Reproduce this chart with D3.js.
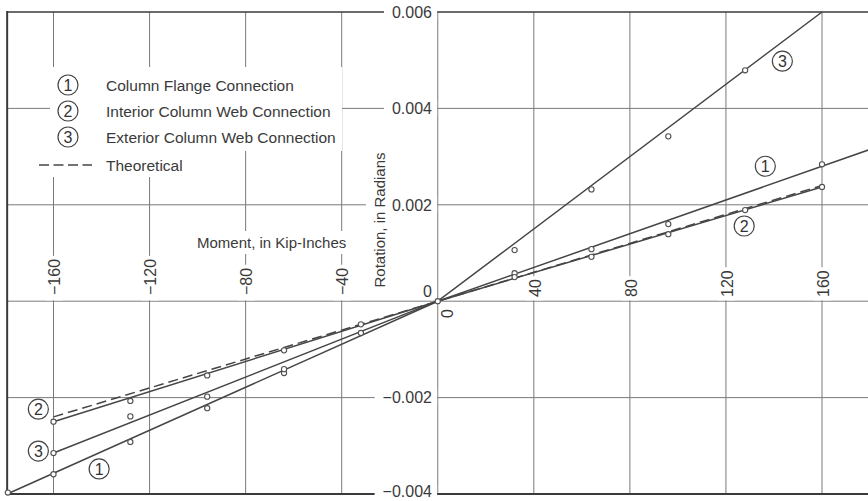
<!DOCTYPE html>
<html lang="en">
<head>
  <meta charset="UTF-8" />
  <title>Moment-Rotation of Beam Connections</title>
  <script src="https://d3js.org/d3.v7.min.js"></script>
  <style>
    body { margin: 0; padding: 0; background: #fff; }
    svg { display: block; font-family: "Liberation Sans", Arial, sans-serif; }
    .grid { stroke: #7a7a7a; stroke-width: 1; }
    .frame { stroke: #3a3a3a; stroke-width: 2; }
    .tick { fill: #3a3a3a; font-size: 16px; }
    .title { fill: #3a3a3a; font-size: 15px; }
    .legend { fill: #3a3a3a; font-size: 15.5px; }
    .series { fill: none; stroke: #454545; stroke-width: 1.5; }
    .pt { fill: #fff; stroke: #505050; stroke-width: 1.1; }
    .tag circle { fill: #fff; stroke: #444; stroke-width: 1.2; }
    .tag text { fill: #333; font-size: 16px; }
  </style>
</head>
<body>
<div id="chart"></div>
<script>
  // ---- data (moment in kip-inches, rotation in radians) ----
  const xGrid = [-160, -120, -80, -40, 0, 40, 80, 120, 160];
  const xTicks = [-160, -120, -80, -40, 40, 80, 120, 160];
  const yGrid = [0.004, 0.002, 0, -0.002];
  const yTicks = [0.006, 0.004, 0.002, -0.002, -0.004];

  // 1 - column flange connection
  const flangePts = [[-179, -0.00397], [-160, -0.00359], [-128, -0.00292], [-96, -0.00222],
                     [-64, -0.00149], [32, 0.00058], [64, 0.00108], [96, 0.0016], [160, 0.00284]];
  const flangeLine = [[-179.3, -0.004], [0, 0], [180, 0.00315]];

  // 2 - interior column web connection
  const interiorPts = [[-160, -0.0025], [-128, -0.00207], [-96, -0.00154], [-64, -0.00102],
                       [-32, -0.00048], [0, 0], [32, 0.0005], [64, 0.00092], [96, 0.00139],
                       [128, 0.00189], [160, 0.00237]];
  const interiorLine = [[-160, -0.0025], [0, 0], [160, 0.00237]];

  // 3 - exterior column web connection
  const exteriorPts = [[-160, -0.00315], [-128, -0.00239], [-96, -0.00198], [-64, -0.00141],
                       [-32, -0.00066], [32, 0.00106], [64, 0.00232], [96, 0.00342], [128, 0.00479]];
  const exteriorLine = [[-160, -0.00315], [0, 0], [160, 0.006]];

  // theoretical
  const theoryLine = [[-160, -0.0024], [160, 0.0024]];

  // circled curve numbers
  const tags = [
    { n: "3", x: 143.5, y: 0.00498 },
    { n: "1", x: 136.4, y: 0.0028 },
    { n: "2", x: 127.6, y: 0.00156 },
    { n: "2", x: -166.3, y: -0.00224 },
    { n: "3", x: -166.3, y: -0.00311 },
    { n: "1", x: -141, y: -0.00348 }
  ];

  const legendItems = ["Column Flange Connection", "Interior Column Web Connection",
                       "Exterior Column Web Connection"];

  // ---- setup ----
  const width = 868, height = 501;
  const xMin = -179.3;

  const x = d3.scaleLinear().domain([-160, 160]).range([53.5, 822]);
  const y = d3.scaleLinear().domain([-0.004, 0.006]).range([494, 12]);

  const svg = d3.select("#chart").append("svg")
    .attr("width", width).attr("height", height);

  svg.append("rect").attr("width", width).attr("height", height).attr("fill", "#fff");

  const gridG = svg.append("g");
  const maskG = svg.append("g");
  const textG = svg.append("g");
  const dataG = svg.append("g");

  // gridlines
  gridG.selectAll(".vg").data(xGrid).enter().append("line")
    .attr("class", "grid")
    .attr("x1", d => x(d)).attr("x2", d => x(d))
    .attr("y1", y(0.006)).attr("y2", y(-0.004));

  gridG.selectAll(".hg").data(yGrid).enter().append("line")
    .attr("class", "grid")
    .attr("x1", x(xMin)).attr("x2", width)
    .attr("y1", d => y(d)).attr("y2", d => y(d));

  // frame: left, top, bottom
  gridG.append("line").attr("class", "frame")
    .attr("x1", x(xMin)).attr("x2", x(xMin)).attr("y1", y(0.006) - 1).attr("y2", y(-0.004) + 1);
  gridG.append("line").attr("class", "frame").style("stroke-width", 1.6)
    .attr("x1", x(xMin)).attr("x2", width).attr("y1", y(0.006)).attr("y2", y(0.006));
  gridG.append("line").attr("class", "frame")
    .attr("x1", x(xMin)).attr("x2", width).attr("y1", y(-0.004)).attr("y2", y(-0.004));

  // white backing behind a text, so gridlines stop around it
  function backdrop(sel, padX, padY) {
    sel.each(function () {
      const b = this.getBBox();
      const m = this.getCTM();
      const pts = [[b.x, b.y], [b.x + b.width, b.y], [b.x, b.y + b.height], [b.x + b.width, b.y + b.height]]
        .map(p => { const q = svg.node().createSVGPoint(); q.x = p[0]; q.y = p[1]; return q.matrixTransform(m); });
      const xs = pts.map(p => p.x), ys = pts.map(p => p.y);
      maskG.append("rect").attr("fill", "#fff")
        .attr("x", d3.min(xs) - padX).attr("y", d3.min(ys) - padY)
        .attr("width", d3.max(xs) - d3.min(xs) + 2 * padX)
        .attr("height", d3.max(ys) - d3.min(ys) + 2 * padY);
    });
  }

  const fmtY = d => (d < 0 ? "\u2212" : "") + Math.abs(d).toFixed(3);
  const fmtX = d => (d < 0 ? "\u2212" : "") + Math.abs(d);

  // y tick labels
  const yLab = textG.selectAll(".yl").data(yTicks).enter().append("text")
    .attr("class", "tick").attr("text-anchor", "end")
    .attr("x", 432).attr("y", d => Math.min(y(d), 491)).attr("dy", "0.36em")
    .text(fmtY);
  yLab.each(function (d) {
    const b = this.getBBox();
    maskG.append("rect").attr("fill", "#fff")
      .attr("x", b.x - 8).attr("y", y(d) - 8)
      .attr("width", x(0) - 0.6 - (b.x - 8)).attr("height", 16);
  });
  textG.append("text").attr("class", "tick").attr("text-anchor", "end")
    .attr("x", 432).attr("y", y(0) - 4).text("0");

  // x tick labels (rotated)
  const xLab = textG.selectAll(".xl").data(xTicks).enter().append("text")
    .attr("class", "tick").attr("text-anchor", "start")
    .attr("transform", d => `translate(${x(d)},${d < 0 ? 295 : 297}) rotate(-90)`)
    .attr("dy", "0.42em")
    .text(fmtX);
  xLab.each(function () {
    const b = this.getBBox();
    const m = this.getCTM();
    const top = m.f - (b.x + b.width);
    maskG.append("rect").attr("fill", "#fff")
      .attr("x", m.e - 8).attr("y", top - 3)
      .attr("width", 17).attr("height", y(0) - 0.8 - (top - 3));
  });
  textG.append("text").attr("class", "tick").attr("text-anchor", "start")
    .attr("transform", `translate(${x(0) + 9},318) rotate(-90)`)
    .attr("dy", "0.36em").text("0");

  // axis titles
  const yTitle = textG.append("text").attr("class", "title").attr("text-anchor", "middle")
    .attr("transform", "translate(385,220) rotate(-90)")
    .text("Rotation, in Radians");
  backdrop(yTitle, 5, 4);

  const xTitle = textG.append("text").attr("class", "title")
    .attr("x", 197).attr("y", 248)
    .text("Moment, in Kip-Inches");
  backdrop(xTitle, 4, 3);

  // legend
  maskG.append("rect").attr("fill", "#fff").attr("x", 50).attr("y", 67).attr("width", 292).attr("height", 84);
  maskG.append("rect").attr("fill", "#fff").attr("x", 35).attr("y", 150).attr("width", 157).attr("height", 27);

  const legendRows = [85, 111, 137];
  legendItems.forEach((t, i) => {
    const g = textG.append("g").attr("class", "tag");
    g.append("circle").attr("cx", 68).attr("cy", legendRows[i]).attr("r", 10);
    g.append("text").attr("x", 68).attr("y", legendRows[i]).attr("dy", "0.36em")
      .attr("text-anchor", "middle").text(i + 1);
    textG.append("text").attr("class", "legend")
      .attr("x", 106).attr("y", legendRows[i]).attr("dy", "0.36em").text(t);
  });
  textG.append("line").attr("x1", 39).attr("x2", 92).attr("y1", 165).attr("y2", 165)
    .attr("stroke", "#454545").attr("stroke-width", 1.6).attr("stroke-dasharray", "10,4.5");
  textG.append("text").attr("class", "legend")
    .attr("x", 106).attr("y", 165).attr("dy", "0.36em").text("Theoretical");

  // ---- data marks ----
  const line = d3.line().x(d => x(d[0])).y(d => y(d[1]));

  dataG.append("path").attr("class", "series").attr("d", line(theoryLine))
    .attr("stroke-dasharray", "10,5");
  [flangeLine, interiorLine, exteriorLine].forEach(l => {
    dataG.append("path").attr("class", "series").attr("d", line(l));
  });

  [flangePts, interiorPts, exteriorPts].forEach(pts => {
    dataG.selectAll(null).data(pts).enter().append("circle")
      .attr("class", "pt").attr("r", 2.6)
      .attr("cx", d => x(d[0])).attr("cy", d => y(d[1]));
  });

  const tagG = dataG.selectAll(".tg").data(tags).enter().append("g").attr("class", "tag");
  tagG.append("circle").attr("r", 10).attr("cx", d => x(d.x)).attr("cy", d => y(d.y));
  tagG.append("text").attr("text-anchor", "middle").attr("dy", "0.36em")
    .attr("x", d => x(d.x)).attr("y", d => y(d.y)).text(d => d.n);
</script>
</body>
</html>
